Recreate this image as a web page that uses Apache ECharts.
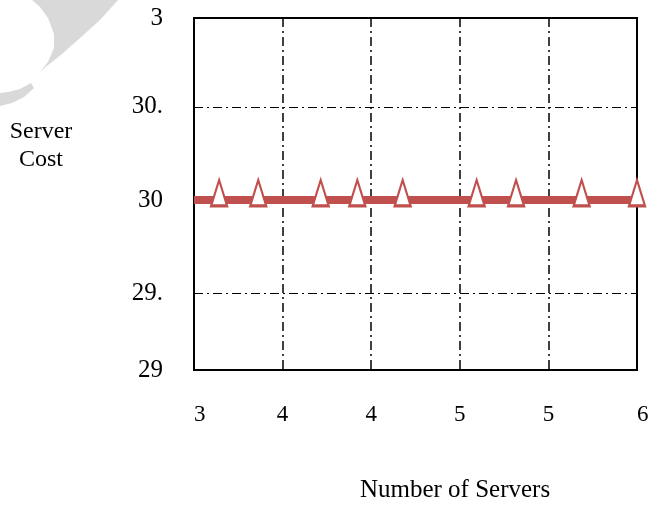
<!DOCTYPE html>
<html>
<head>
<meta charset="utf-8">
<script src="https://cdn.jsdelivr.net/npm/echarts@6/dist/echarts.min.js"></script>
<style>
  html, body { margin: 0; padding: 0; background: #ffffff; }
  #chart { width: 661px; height: 508px; }
</style>
</head>
<body>
<div id="chart"></div>
<script>
// Server count (x) and the resulting cost (y) for each sampled configuration
const serverCounts = [3.0, 3.17, 3.435, 3.858, 4.106, 4.413, 4.914, 5.181, 5.625, 6.0];
const serverCost   = [30, 30, 30, 30, 30, 30, 30, 30, 30, 30];

// Tick labels as printed on each axis
const xTickLabels = ['3', '4', '4', '5', '5', '6'];
const yTickLabels = ['29', '29.', '30', '30.', '3'];

const FONT = '"Liberation Serif", "Times New Roman", serif';
const RED = '#C0504D';

const chart = echarts.init(document.getElementById('chart'), null, { renderer: 'canvas' });

// first sample sits on the axis origin and carries no marker
const seriesData = serverCounts.map((x, i) =>
  i === 0 ? { value: [x, serverCost[i]], symbol: 'none' } : [x, serverCost[i]]
);

const dashDot = [9, 4, 2, 4];

chart.setOption({
  animation: false,
  backgroundColor: '#ffffff',
  grid: {
    left: 194, top: 18, right: 24, bottom: 138,
    show: true, borderColor: '#000000', borderWidth: 2, backgroundColor: 'transparent'
  },
  xAxis: {
    type: 'value',
    min: 3, max: 6, interval: 0.6,
    axisLine: { show: false },
    axisTick: { show: false },
    splitLine: { show: true, lineStyle: { color: '#000000', width: 1.5, type: dashDot } },
    axisLabel: {
      margin: 33,
      showMinLabel: true, showMaxLabel: true,
      alignMinLabel: 'left', alignMaxLabel: 'left',
      fontFamily: FONT, fontSize: 23, color: '#000000',
      formatter: (v, i) => xTickLabels[i]
    }
  },
  yAxis: {
    type: 'value',
    min: 29.086, max: 30.978, splitNumber: 4,
    axisLine: { show: false },
    axisTick: { show: false },
    splitLine: { show: true, lineStyle: { color: '#000000', width: 1, type: dashDot } },
    axisLabel: {
      margin: 31,
      showMinLabel: true, showMaxLabel: true,
      fontFamily: FONT, fontSize: 25, color: '#000000',
      formatter: (v, i) => yTickLabels[i]
    }
  },
  series: [{
    type: 'line',
    data: seriesData,
    clip: false,
    symbol: 'triangle',
    symbolSize: [16, 26],
    symbolOffset: [0, -7],
    itemStyle: { color: '#ffffff', borderColor: RED, borderWidth: 2.5 },
    lineStyle: { color: RED, width: 8 },
    emphasis: { disabled: true },
    z: 3
  }],
  graphic: [
    // faint swoosh in the upper-left corner
    {
      type: 'polygon',
      shape: { points: [[32, 0], [118, 0], [100, 20], [80, 38], [62, 54], [48, 65], [40, 72],
                        [48, 62], [54, 48], [54, 34], [48, 18], [40, 7]] },
      style: { fill: '#d9d9d9' },
      z: 0
    },
    {
      type: 'polygon',
      shape: { points: [[31, 83], [20, 89], [8, 92], [0, 93], [0, 106], [12, 103], [24, 97], [34, 88]] },
      style: { fill: '#d9d9d9' },
      z: 0
    },
    {
      type: 'text',
      x: 41, y: 118,
      style: { text: 'Server\nCost', font: '24px ' + FONT, fill: '#000000', align: 'center', lineHeight: 28 }
    },
    {
      type: 'text',
      x: 455, y: 490,
      style: { text: 'Number of Servers', font: '25px ' + FONT, fill: '#000000', align: 'center', verticalAlign: 'middle' }
    }
  ]
});
</script>
</body>
</html>
